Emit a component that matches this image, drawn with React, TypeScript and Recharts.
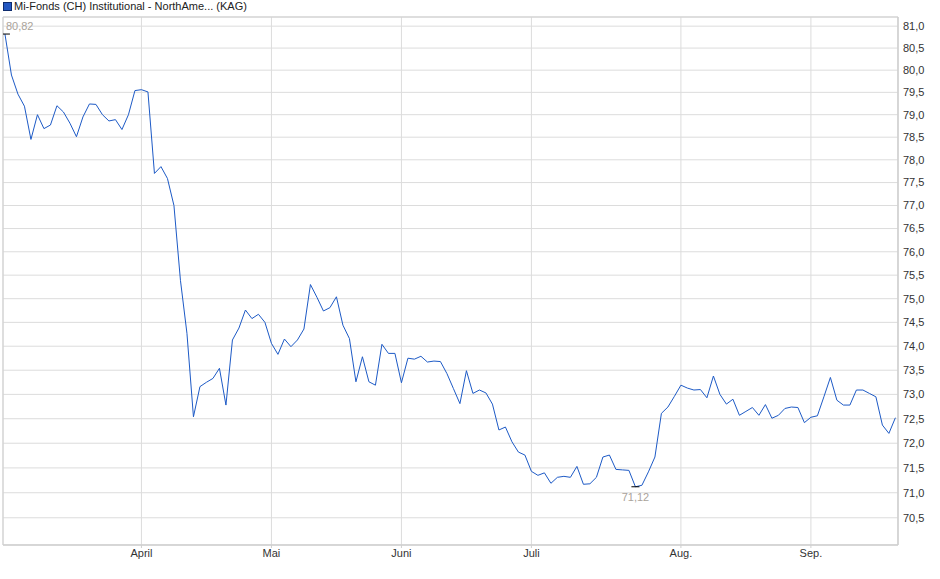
import React from "react";
import { LineChart, Line, XAxis, YAxis, CartesianGrid, ReferenceArea } from "recharts";

const seriesName = "Mi-Fonds (CH) Institutional - NorthAme... (KAG)";

const prices = [
  80.82, 79.89, 79.46, 79.19, 78.45, 79.0, 78.69, 78.77, 79.2, 79.06,
  78.81, 78.51, 78.95, 79.24, 79.23, 79.0, 78.86, 78.89, 78.67, 79.0,
  79.54, 79.56, 79.51, 77.7, 77.85, 77.59, 77.0, 75.39, 74.27, 72.54,
  73.16, 73.25, 73.33, 73.54, 72.78, 74.13, 74.38, 74.76, 74.58, 74.67,
  74.5, 74.06, 73.83, 74.15, 73.99, 74.13, 74.36, 75.3, 75.03, 74.74,
  74.81, 75.04, 74.44, 74.16, 73.26, 73.78, 73.26, 73.19, 74.04, 73.85,
  73.85, 73.24, 73.75, 73.73, 73.79, 73.67, 73.69, 73.68, 73.43, 73.12,
  72.81, 73.49, 73.02, 73.09, 73.03, 72.8, 72.27, 72.33, 72.03, 71.82,
  71.76, 71.43, 71.35, 71.4, 71.19, 71.31, 71.33, 71.31, 71.53, 71.17,
  71.18, 71.31, 71.72, 71.76, 71.47, 71.46, 71.45, 71.12, 71.15, 71.42,
  71.72, 72.61, 72.74, 72.96, 73.19, 73.13, 73.09, 73.1, 72.93, 73.38,
  73.0, 72.8, 72.9, 72.57, 72.65, 72.73, 72.57, 72.79, 72.51, 72.57,
  72.71, 72.74, 72.73, 72.42, 72.53, 72.56, 72.95, 73.35, 72.88, 72.78,
  72.78, 73.09, 73.09, 73.02, 72.95, 72.37, 72.2, 72.52,
];

const monthTicks = [21, 41, 61, 81, 104, 124];
const monthLabels = ["April", "Mai", "Juni", "Juli", "Aug.", "Sep."];
const yTicks = [70.5, 71, 71.5, 72, 72.5, 73, 73.5, 74, 74.5, 75, 75.5, 76, 76.5, 77, 77.5, 78, 78.5, 79, 79.5, 80, 80.5, 81];

const yMin = 69.96;
const yMax = 81.21;
const xMin = -0.3;
const xMax = prices.length - 1 + 0.4;

const data = prices.map((v, i) => ({ i, v }));
const maxIdx = prices.indexOf(Math.max(...prices));
const minIdx = prices.indexOf(Math.min(...prices));

const FONT = "'Liberation Sans', Arial, sans-serif";
const fmt = (v: number) => v.toFixed(2).replace(".", ",");

const renderDot = (props: any) => {
  const { cx, cy, index } = props;
  if (index === maxIdx) {
    return (
      <g key="max">
        <line x1={cx - 4} x2={cx + 5} y1={cy} y2={cy} stroke="#000" strokeWidth={1} />
        <text x={cx + 1} y={cy - 4} fontSize={11} fontFamily={FONT} fill="#aaa39b">
          {fmt(prices[index])}
        </text>
      </g>
    );
  }
  if (index === minIdx) {
    return (
      <g key="min">
        <line x1={cx - 4} x2={cx + 4} y1={cy} y2={cy} stroke="#000" strokeWidth={1} />
        <text x={cx} y={cy + 14} fontSize={11} fontFamily={FONT} fill="#aaa39b" textAnchor="middle">
          {fmt(prices[index])}
        </text>
      </g>
    );
  }
  return <g key={"d" + index} />;
};

export default function App() {
  return (
    <div style={{ position: "absolute", left: 0, top: 0, width: 940, height: 579, background: "#fff", fontFamily: FONT }}>
      <div style={{ position: "absolute", left: 3, top: 2, width: 7, height: 7, background: "#2357c1", border: "1px solid #0e2c6e" }} />
      <div style={{ position: "absolute", left: 14, top: 0, fontSize: 11, lineHeight: "12px", color: "#222", whiteSpace: "nowrap" }}>
        {seriesName}
      </div>
      <LineChart width={940} height={579} data={data} margin={{ top: 17, right: 4, bottom: 12, left: 3 }}>
        <CartesianGrid stroke="#dcdcdc" strokeWidth={1} />
        <ReferenceArea x1={xMin} x2={xMax} y1={yMin} y2={yMax} fill="none" stroke="#cfcfcf" strokeWidth={1} ifOverflow="visible" />
        <XAxis
          dataKey="i"
          type="number"
          domain={[xMin, xMax]}
          ticks={monthTicks}
          allowDataOverflow
          tickFormatter={(v: number) => monthLabels[monthTicks.indexOf(v)] ?? ""}
          height={22}
          tickSize={3}
          tickMargin={1}
          axisLine={{ stroke: "#cfcfcf" }}
          tickLine={{ stroke: "#cfcfcf" }}
          tick={{ fontSize: 11, fill: "#333", fontFamily: FONT }}
        />
        <YAxis
          orientation="right"
          type="number"
          scale="log"
          domain={[yMin, yMax]}
          allowDataOverflow
          ticks={yTicks}
          interval={0}
          tickFormatter={(v: number) => v.toFixed(1).replace(".", ",")}
          width={38}
          tickSize={5}
          tickMargin={0}
          tickLine={false}
          axisLine={{ stroke: "#cfcfcf" }}
          tick={{ fontSize: 11, fill: "#333", fontFamily: FONT, textAnchor: "start" }}
        />
        <Line
          type="linear"
          dataKey="v"
          stroke="#1d5ac6"
          strokeWidth={1}
          dot={renderDot}
          activeDot={false}
          isAnimationActive={false}
        />
      </LineChart>
    </div>
  );
}
